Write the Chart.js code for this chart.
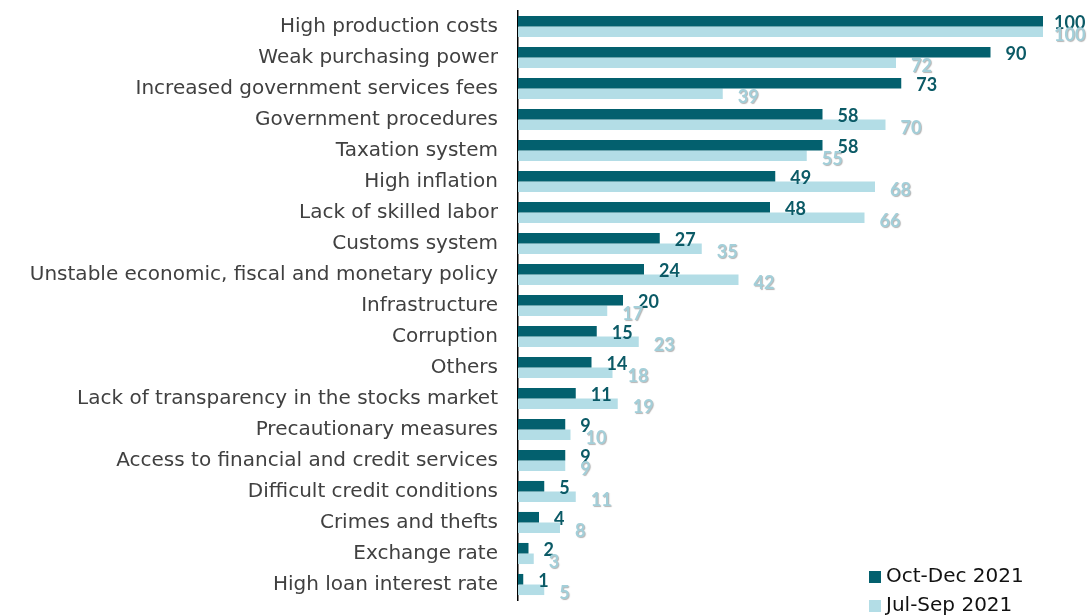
<!DOCTYPE html>
<html>
<head>
<meta charset="utf-8">
<script src="https://cdn.jsdelivr.net/npm/chart.js@4/dist/chart.umd.min.js"></script>
<style>
  html,body{margin:0;padding:0;background:#fff;}
  #wrap{width:1090px;height:615px;position:relative;}
</style>
</head>
<body>
<div id="wrap"><canvas id="c"></canvas></div>
<script>
// --- data ---
const categories = [
  'High production costs','Weak purchasing power','Increased government services fees',
  'Government procedures','Taxation system','High inflation','Lack of skilled labor',
  'Customs system','Unstable economic, fiscal and monetary policy','Infrastructure',
  'Corruption','Others','Lack of transparency in the stocks market','Precautionary measures',
  'Access to financial and credit services','Difficult credit conditions','Crimes and thefts',
  'Exchange rate','High loan interest rate'
];
const octDec2021 = [100,90,73,58,58,49,48,27,24,20,15,14,11,9,9,5,4,2,1];
const julSep2021 = [100,72,39,70,55,68,66,35,42,17,23,18,19,10,9,11,8,3,5];
const seriesNames = ['Oct-Dec 2021','Jul-Sep 2021'];

const DARK = '#03606e', LIGHT = '#b3dde6';
const FONT = "'DejaVu Sans', sans-serif";

// value labels drawn after the bars
const valueLabels = {
  id:'valueLabels',
  afterDatasetsDraw(chart){
    const ctx = chart.ctx;
    ctx.save();
    ctx.font = "bold 18px Lato, sans-serif";
    ctx.textAlign = 'left';
    ctx.textBaseline = 'middle';
    chart.data.datasets.forEach((ds,di)=>{
      const meta = chart.getDatasetMeta(di);
      meta.data.forEach((bar,i)=>{
        ctx.fillStyle = di===0 ? '#0b5a66' : '#a3cfd9';
        if(di===1){ ctx.shadowColor='rgba(90,90,90,0.45)'; ctx.shadowOffsetX=1; ctx.shadowOffsetY=1; ctx.shadowBlur=1; }
        // the widest labels sit a bit closer to the bar so they stay on the canvas
        const off = ds.data[i] >= 100 ? 11 : 15;
        ctx.fillText(String(ds.data[i]), bar.x + off, bar.y + (di===0 ? 2 : 3));
        ctx.shadowColor='transparent';
      });
    });
    ctx.restore();
  }
};

// legend in the lower right corner
const cornerLegend = {
  id:'cornerLegend',
  afterDraw(chart){
    const ctx = chart.ctx;
    ctx.save();
    ctx.font = "20px " + FONT;
    ctx.textBaseline = 'middle';
    chart.data.datasets.forEach((ds,i)=>{
      const y = 577 + i*29;
      ctx.fillStyle = ds.backgroundColor;
      ctx.fillRect(869, y-6, 12, 12);
      ctx.fillStyle = '#111';
      ctx.fillText(ds.label, 886, y);
    });
    ctx.restore();
  }
};

new Chart(document.getElementById('c'), {
  type:'bar',
  data:{
    labels: categories,
    datasets:[
      {label:seriesNames[0], data:octDec2021, backgroundColor:DARK, categoryPercentage:0.68, barPercentage:1},
      {label:seriesNames[1], data:julSep2021, backgroundColor:LIGHT, categoryPercentage:0.68, barPercentage:1}
    ]
  },
  options:{
    indexAxis:'y',
    responsive:true,
    maintainAspectRatio:false,
    animation:false,
    layout:{padding:{top:11, right:47, bottom:15, left:0}},
    plugins:{legend:{display:false}, tooltip:{enabled:false}},
    scales:{
      x:{min:0, max:100, display:false, grid:{display:false}},
      y:{
        grid:{display:false, drawTicks:false},
        border:{display:true, color:'#000', width:1.5},
        ticks:{color:'#404040', font:{family:FONT, size:20}, padding:20},
        afterFit(scale){ scale.width = 518; scale.paddingTop = 0; scale.paddingBottom = 0; }
      }
    }
  },
  plugins:[valueLabels, cornerLegend]
});
</script>
</body>
</html>
